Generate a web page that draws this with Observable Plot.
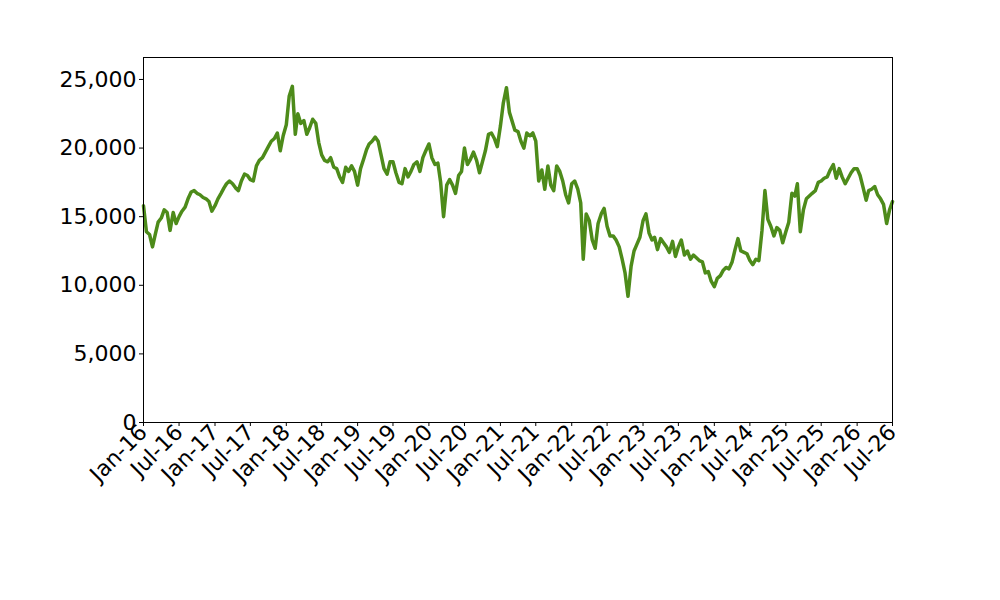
<!DOCTYPE html>
<html><head><meta charset="utf-8">
<script src="https://cdn.jsdelivr.net/npm/d3@7"></script>
<script src="https://cdn.jsdelivr.net/npm/@observablehq/plot@0.6"></script>
<style>body{margin:0;background:#fff;}</style>
</head><body><div id="chart"></div>
<script>
// Semi-monthly readings (1st and 16th of each month), Jan 2016 .. Jul 2026
const values = [
// 2016
15800,13900,13700,12800,13700,14600,14900,15500,15300,14000,15300,14500,
15000,15400,15700,16300,16800,16900,16700,16600,16400,16300,16100,15400,
// 2017
15800,16300,16700,17100,17400,17600,17400,17100,16900,17600,18100,18000,
17700,17600,18700,19100,19300,19700,20100,20500,20700,21100,19800,20900,
// 2018
21700,23800,24500,21000,22500,21800,22000,21000,21500,22100,21800,20400,
19500,19100,19000,19300,18600,18500,17900,17500,18600,18300,18700,18300,
// 2019
17300,18500,19200,19900,20300,20500,20800,20500,19500,18500,18100,19000,
19000,18200,17500,17400,18500,17900,18300,18800,19000,18300,19300,19800,
// 2020
20300,19300,18800,18900,17500,15000,17300,17700,17300,16700,18000,18300,
20000,18800,19200,19700,19100,18200,19000,19800,21000,21100,20700,20100,
// 2021
21600,23300,24400,22600,22000,21300,21200,20500,20000,21100,20900,21100,
20500,17600,18400,17000,18700,17300,16900,18700,18300,17600,16600,16000,
// 2022
17400,17600,17000,16000,11900,15200,14700,13300,12700,14500,15200,15600,
14300,13600,13600,13300,12800,11900,10900,9200,11400,12500,13000,13500,
// 2023
14700,15200,13800,13300,13500,12600,13400,13100,12800,12400,13200,12100,
12800,13300,12200,12500,11900,12200,12000,11800,11700,10900,11000,10300,
// 2024
9900,10500,10700,11100,11300,11200,11700,12600,13400,12500,12400,12300,
11800,11500,11900,11800,14000,16900,14800,14300,13600,14200,14000,13100,
// 2025
13900,14600,16700,16500,17400,13900,15500,16300,16500,16700,16900,17500,
17600,17800,17900,18400,18800,17800,18500,17900,17400,17800,18200,18500,
// 2026
18500,18000,17100,16200,16900,17000,17200,16600,16300,15900,14500,15500,16100
];

const yTicks = [0, 5000, 10000, 15000, 20000, 25000];
const xTicks = [
"2016-01-01","2016-07-01","2017-01-01","2017-07-01","2018-01-01","2018-07-01",
"2019-01-01","2019-07-01","2020-01-01","2020-07-01","2021-01-01","2021-07-01",
"2022-01-01","2022-07-01","2023-01-01","2023-07-01","2024-01-01","2024-07-01",
"2025-01-01","2025-07-01","2026-01-01","2026-07-01"
].map(s => new Date(s + "T00:00:00Z"));

const data = values.map((v, i) => ({
  date: new Date(Date.UTC(2016 + Math.floor(i / 24), Math.floor(i / 2) % 12, i % 2 ? 16 : 1)),
  value: v
}));

const chart = Plot.plot({
  width: 1000,
  height: 600,
  marginLeft: 143,
  marginRight: 108,
  marginTop: 57,
  marginBottom: 178,
  style: {fontFamily: "DejaVu Sans", fontSize: "22px", color: "#000", background: "#fff"},
  x: {
    type: "utc",
    domain: [xTicks[0], xTicks[xTicks.length - 1]]
  },
  y: {
    domain: [0, 26600]
  },
  marks: [
    Plot.axisX({ticks: xTicks, tickFormat: d3.utcFormat("%b-%y"), tickRotate: -45, tickSize: 4, tickPadding: 2, fontSize: 22, label: null}),
    Plot.axisY({ticks: yTicks, tickFormat: d3.format(","), tickSize: 4, tickPadding: 3, fontSize: 22, label: null}),
    Plot.lineY(data, {x: "date", y: "value", stroke: "#4d8b1a", strokeWidth: 3.5, strokeLinejoin: "round"}),
    Plot.frame({stroke: "#000", strokeWidth: 1})
  ]
});
document.getElementById("chart").appendChild(chart);
</script>
</body></html>
